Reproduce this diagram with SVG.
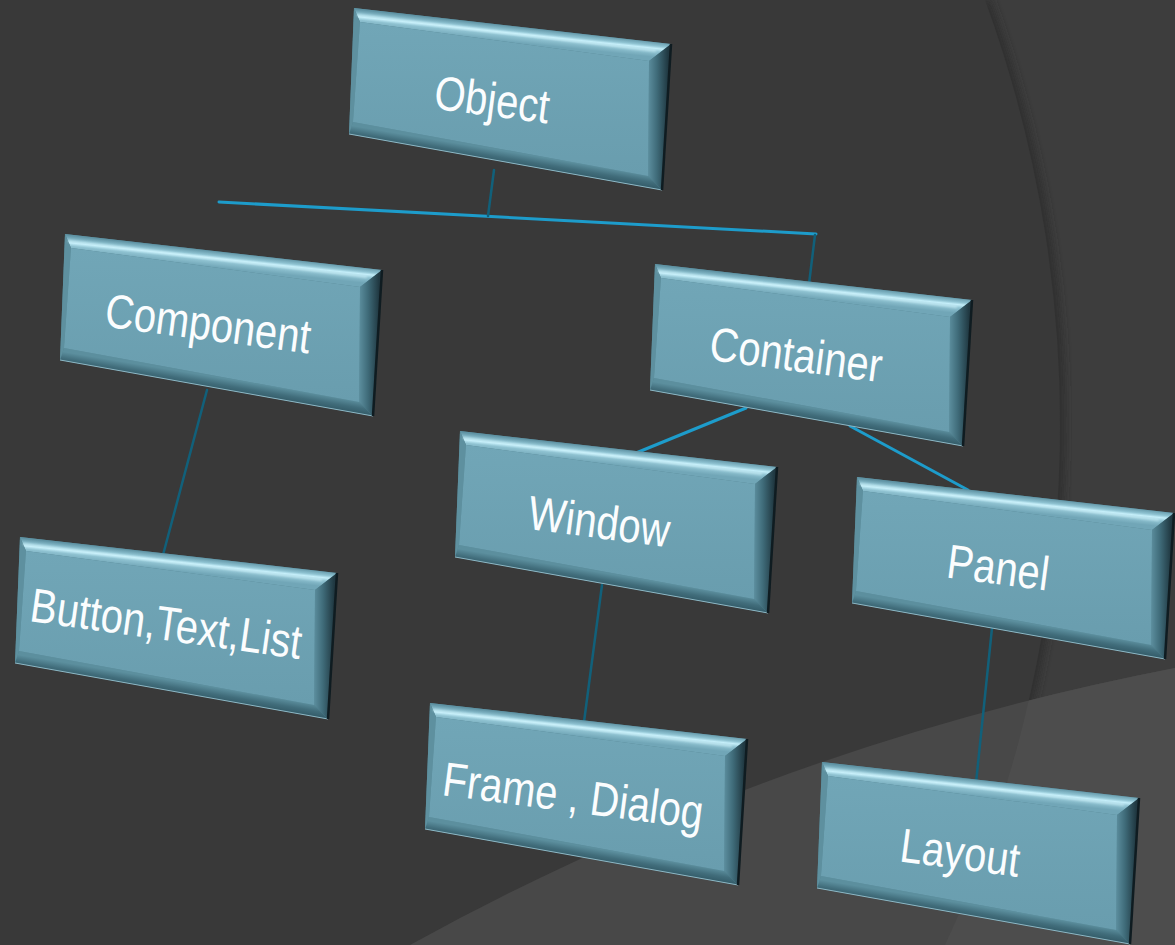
<svg xmlns="http://www.w3.org/2000/svg" xmlns:xlink="http://www.w3.org/1999/xlink" width="1175" height="945" viewBox="0 0 1175 945">
  <style>
    .lbl { font-family: "Liberation Sans", Arial, sans-serif; font-size: 40px; fill: #fbfdfe; text-anchor: middle; }
    .bright { stroke: #1d9ccb; stroke-width: 3; fill: none; stroke-linecap: round; }
    .dark { stroke: #11607a; stroke-width: 2.5; fill: none; stroke-linecap: round; }
  </style>
  <defs>
    <linearGradient id="gTop" gradientUnits="userSpaceOnUse" x1="150" y1="17" x2="148.3" y2="33">
      <stop offset="0" stop-color="#5f93a4"/>
      <stop offset="0.3" stop-color="#8fc3d2"/>
      <stop offset="0.45" stop-color="#c4eef9"/>
      <stop offset="0.65" stop-color="#8fc2d1"/>
      <stop offset="1" stop-color="#71a6b7"/>
    </linearGradient>
    <linearGradient id="gRight" gradientUnits="userSpaceOnUse" x1="294" y1="110" x2="314" y2="110">
      <stop offset="0" stop-color="#5d8f9f"/>
      <stop offset="0.45" stop-color="#3f6b79"/>
      <stop offset="1" stop-color="#203841"/>
    </linearGradient>
    <linearGradient id="gBot" gradientUnits="userSpaceOnUse" x1="150" y1="143" x2="148" y2="155">
      <stop offset="0" stop-color="#5c8f9e"/>
      <stop offset="0.55" stop-color="#416d7b"/>
      <stop offset="1" stop-color="#345c69"/>
    </linearGradient>
    <linearGradient id="gFace" x1="0" y1="0" x2="0" y2="1">
      <stop offset="0" stop-color="#71a6b7"/>
      <stop offset="1" stop-color="#699dae"/>
    </linearGradient>
    <filter id="soft" x="-10%" y="-10%" width="120%" height="120%">
      <feGaussianBlur stdDeviation="4"/>
    </filter>
    <filter id="glow" x="-5%" y="-50%" width="110%" height="200%">
      <feGaussianBlur stdDeviation="0.8"/>
    </filter>
    <clipPath id="rightLayer">
      <path d="M985 0 A1237 1237 0 0 1 945 945 L1175 945 L1175 0 Z"/>
    </clipPath>

    <!-- bevelled plate, drawn in its own local coordinates -->
    <g id="box">
      <polygon points="0,0 317,36 308,182 -5,126" fill="#4f7f8d"/>
      <polygon points="0,0 317,36 295,53 6,14" fill="url(#gTop)"/>
      <polygon points="317,36 308,182 294,168 295,53" fill="url(#gRight)"/>
      <polygon points="-5,126 308,182 294,168 -1,114" fill="url(#gBot)"/>
      <polygon points="0,0 6,14 -1,114 -5,126" fill="#5e909f"/>
      <polygon points="6,14 295,53 294,168 -1,114" fill="url(#gFace)"/>
      <line x1="3" y1="7" x2="302" y2="43" stroke="#d0f3fb" stroke-width="2" opacity="0.7" filter="url(#glow)"/>
      <line x1="-5" y1="126" x2="308" y2="182" stroke="#8db7c4" stroke-width="1"/>
      <line x1="317" y1="36" x2="308" y2="182" stroke="#0f1c21" stroke-width="2.5"/>
    </g>
  </defs>

  <!-- backdrop with overlapping circular layers -->
  <rect width="1175" height="945" fill="#393939"/>
  <path d="M985 0 A1237 1237 0 0 1 945 945 L1175 945 L1175 0 Z" fill="#3d3d3d"/>
  <g clip-path="url(#rightLayer)">
    <path d="M985 0 A1237 1237 0 0 1 945 945" fill="none" stroke="#2f2f2f" stroke-width="10" filter="url(#soft)"/>
  </g>
  <path d="M410 945 A2603 2603 0 0 1 1175 668 L1175 945 Z" fill="#484848"/>
  <g clip-path="url(#rightLayer)">
    <path d="M410 945 A2603 2603 0 0 1 1175 668 L1175 945 Z" fill="#4d4d4d"/>
  </g>

  <!-- connectors -->
  <g id="connectors">
    <line class="bright" x1="219" y1="202" x2="816" y2="234"/>
    <line class="dark" x1="494" y1="170" x2="488" y2="216"/>
    <line class="dark" x1="815" y1="235" x2="809" y2="284"/>
    <line class="dark" x1="207" y1="390" x2="163" y2="555"/>
    <line class="bright" x1="746" y1="408" x2="636" y2="453"/>
    <line class="bright" x1="850" y1="426" x2="968" y2="490"/>
    <line class="dark" x1="602" y1="585" x2="584" y2="722"/>
    <line class="dark" x1="992" y1="628" x2="976" y2="783"/>
  </g>

  <!-- nodes -->
  <g id="node-object">
    <use xlink:href="#box" href="#box" transform="translate(354 8)"/>
    <text class="lbl" transform="translate(490 116) rotate(7.5) scale(1 1.2)">Object</text>
  </g>
  <g id="node-component">
    <use xlink:href="#box" href="#box" transform="translate(65 234)"/>
    <text class="lbl" transform="translate(206 340) rotate(7.5) scale(1 1.2)">Component</text>
  </g>
  <g id="node-container">
    <use xlink:href="#box" href="#box" transform="translate(655 264)"/>
    <text class="lbl" transform="translate(794 371) rotate(7.5) scale(1 1.2)">Container</text>
  </g>
  <g id="node-window">
    <use xlink:href="#box" href="#box" transform="translate(460 431)"/>
    <text class="lbl" transform="translate(597 538) rotate(7.5) scale(1 1.2)">Window</text>
  </g>
  <g id="node-panel">
    <use xlink:href="#box" href="#box" transform="translate(857 477)"/>
    <text class="lbl" transform="translate(996 584) rotate(7.5) scale(1 1.2)">Panel</text>
  </g>
  <g id="node-button">
    <use xlink:href="#box" href="#box" transform="translate(20 537)"/>
    <text class="lbl" transform="translate(164 640) rotate(8) scale(1 1.2)">Button,Text,List</text>
  </g>
  <g id="node-frame">
    <use xlink:href="#box" href="#box" transform="translate(430 703)"/>
    <text class="lbl" transform="translate(571 812) rotate(7.5) scale(1 1.2)">Frame , Dialog</text>
  </g>
  <g id="node-layout">
    <use xlink:href="#box" href="#box" transform="translate(822 762)"/>
    <text class="lbl" transform="translate(958 869) rotate(7.5) scale(1 1.2)">Layout</text>
  </g>
</svg>
